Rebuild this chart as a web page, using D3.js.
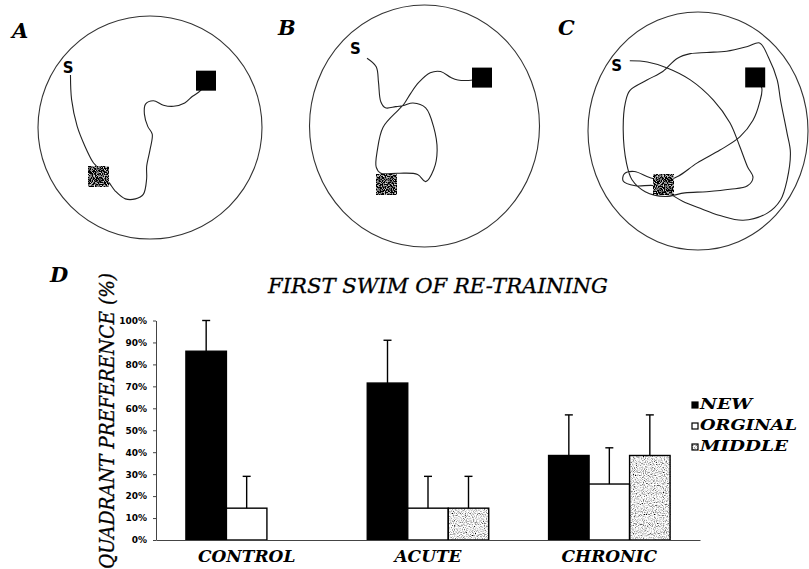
<!DOCTYPE html>
<html lang="en">
<head>
<meta charset="UTF-8">
<script src="https://cdn.jsdelivr.net/npm/d3@7"></script>
<style>
  body { margin: 0; background: #fff; }
  svg { display: block; }
  .serif { font-family: "DejaVu Serif", "Liberation Serif", serif; font-style: italic; }
  .tick text { font-family: "DejaVu Sans", sans-serif; font-weight: bold; font-size: 9px; }
</style>
</head>
<body>
<div id="container"></div>
<script>
// bar chart data
const categories = ["CONTROL", "ACUTE", "CHRONIC"];
const series = ["NEW", "ORGINAL", "MIDDLE"];
const newPct = [86, 71.5, 38.5];
const orgPct = [14.5, 14.5, 25.5];
const midPct = [0, 14.5, 38.5];
const newErr = [14, 19.5, 18.5];
const orgErr = [14.5, 14.5, 16.5];
const midErr = [0, 14.5, 18.5];
const yTicks = [0, 10, 20, 30, 40, 50, 60, 70, 80, 90, 100];

// swim paths, pool units (-100..100 from pool centre)
const poolLabels = ["A", "B", "C"];
const pathA = [[-71,-47],[-70,-25],[-65,-1],[-58,17],[-51,31],[-47,36],[-46,44],[-38,48],[-31,57],[-22,64],[-13,64],[-6,60],[-3,46],[-3,35],[0,20],[2,6],[-2,-1],[-5,-12],[-4,-21],[3,-24],[12,-20],[21,-19],[31,-22],[38,-28],[45,-33],[50,-42]];
const pathB = [[-50,-56],[-42,-49],[-40,-36],[-38,-20],[-34,-15],[-25,-16],[-18,-17],[-10,-19],[1,-15],[8,1],[11,20],[8,36],[1,46],[-6,40],[-23,39],[-38,39],[-42,34],[-41,20],[-36,1],[-23,-13],[-18,-18],[-12,-27],[-5,-36],[5,-44],[14,-45],[23,-40],[29,-38],[42,-38],[50,-40]];
const pathC = [[-62,-59],[-46,-58],[-28,-53],[-7,-43],[14,-26],[29,-7],[38,13],[45,30],[50,39],[45,46],[29,49],[8,51],[-12,52],[-30,55],[-48,51],[-60,41],[-65,27],[-68,-1],[-66,-24],[-62,-34],[-46,-43],[-32,-50],[-19,-61],[-7,-65],[8,-66],[26,-67],[45,-71],[56,-74],[64,-62],[72,-43],[75,-26],[81,2],[84,18],[81,41],[75,58],[63,69],[41,75],[20,71],[2,65],[-14,59],[-27,52],[-39,46],[-57,46],[-68,42],[-67,36],[-58,34],[-44,39],[-30,42],[-18,38],[-1,27],[20,16],[38,5],[50,-9],[56,-24],[58,-36],[52,-45]];
const paths = [pathA, pathB, pathC];
const startPts = [[-73,-54],[-60,-64],[-74,-55]];
const newPlatform = [[50,-42],[50,-40],[52,-45]];
const oldPlatform = [[-46,44],[-33,48],[-31,45]];

const W = 809, H = 569;
const svg = d3.select("#container").append("svg")
    .attr("width", W).attr("height", H);

const defs = svg.append("defs");
function speckle(id, k, off) {
    const f = defs.append("filter").attr("id", id)
        .attr("x", 0).attr("y", 0).attr("width", 1).attr("height", 1);
    f.append("feTurbulence").attr("type", "fractalNoise")
        .attr("baseFrequency", 0.9).attr("numOctaves", 1).attr("seed", 7);
    f.append("feColorMatrix").attr("type", "matrix")
        .attr("values", `${k} 0 0 0 ${off}  ${k} 0 0 0 ${off}  ${k} 0 0 0 ${off}  0 0 0 0 1`);
}
speckle("lightSpeck", 3, -0.7);
speckle("darkSpeck", 3, -1.45);

/*---------------- pools ----------------*/
const pools = [
    {cx: 150, cy: 127.5, rx: 112, ry: 111.5, lx: 12, ly: 38},
    {cx: 424.5, cy: 126, rx: 115, ry: 121, lx: 278, ly: 35},
    {cx: 698, cy: 131, rx: 110, ry: 119, lx: 558, ly: 35}
];

pools.forEach((p, i) => {
    const x = d3.scaleLinear().domain([-100, 100]).range([p.cx - p.rx, p.cx + p.rx]);
    const y = d3.scaleLinear().domain([-100, 100]).range([p.cy - p.ry, p.cy + p.ry]);
    const g = svg.append("g");

    g.append("ellipse")
        .attr("cx", x(0)).attr("cy", y(0))
        .attr("rx", p.rx).attr("ry", p.ry)
        .attr("fill", "none").attr("stroke", "#333").attr("stroke-width", 1.1);

    const line = d3.line().x(d => x(d[0])).y(d => y(d[1])).curve(d3.curveCatmullRom);
    g.append("path").attr("d", line(paths[i]))
        .attr("fill", "none").attr("stroke", "#222").attr("stroke-width", 1.1);

    const sq = 20;
    g.append("rect")
        .attr("x", x(oldPlatform[i][0]) - sq / 2).attr("y", y(oldPlatform[i][1]) - sq / 2)
        .attr("width", sq).attr("height", sq)
        .attr("filter", "url(#darkSpeck)");
    g.append("rect")
        .attr("x", x(newPlatform[i][0]) - sq / 2).attr("y", y(newPlatform[i][1]) - sq / 2)
        .attr("width", sq).attr("height", sq).attr("fill", "#000");

    g.append("text")
        .attr("x", x(startPts[i][0])).attr("y", y(startPts[i][1]))
        .attr("dy", "0.36em").attr("text-anchor", "middle")
        .style("font-family", "DejaVu Sans, sans-serif").style("font-weight", "bold")
        .style("font-size", "15px").text("S");

    svg.append("text").attr("class", "serif")
        .attr("x", p.lx).attr("y", p.ly)
        .style("font-weight", "bold").style("font-size", "21px")
        .text(poolLabels[i]);
});

/*---------------- bar chart ----------------*/
const values = [newPct, orgPct, midPct];
const errors = [newErr, orgErr, midErr];

const x0 = d3.scaleBand().domain(categories).range([156, 700])
    .paddingInner(0.33).paddingOuter(0.165);
const x1 = d3.scaleBand().domain(series).range([0, x0.bandwidth()]);
const y = d3.scaleLinear().domain([0, 100]).range([540, 320.5]);

svg.append("text").attr("class", "serif")
    .attr("x", 50).attr("y", 282)
    .style("font-weight", "bold").style("font-size", "21px").text("D");

svg.append("text").attr("class", "serif")
    .attr("x", 438).attr("y", 293).attr("text-anchor", "middle")
    .attr("textLength", 340).attr("lengthAdjust", "spacingAndGlyphs")
    .style("font-size", "21px").style("stroke", "#000").style("stroke-width", 0.3)
    .text("FIRST SWIM OF RE-TRAINING");

svg.append("text").attr("class", "serif")
    .attr("transform", "translate(114,421) rotate(-90)")
    .attr("text-anchor", "middle")
    .attr("textLength", 296).attr("lengthAdjust", "spacingAndGlyphs")
    .style("font-size", "20px").style("stroke", "#000").style("stroke-width", 0.3)
    .text("QUADRANT PREFERENCE (%)");

const yAxis = svg.append("g").attr("transform", "translate(156,0)")
    .call(d3.axisLeft(y).tickValues(yTicks).tickFormat(d => d + "%")
        .tickSizeInner(3).tickSizeOuter(0).tickPadding(6));
yAxis.select(".domain").attr("stroke", "#444");
yAxis.selectAll(".tick line").attr("stroke", "#444");

const bars = [];
categories.forEach((c, ci) => {
    series.forEach((s, si) => {
        bars.push({c, s, si, v: values[si][ci], e: errors[si][ci]});
    });
});
const shown = bars.filter(d => d.v > 0);

const barG = svg.append("g");
// stipple fill for middle bars
barG.selectAll("rect.speck")
    .data(shown.filter(d => d.si === 2))
    .join("rect")
    .attr("class", "speck")
    .attr("x", d => x0(d.c) + x1(d.s)).attr("y", d => y(d.v))
    .attr("width", x1.bandwidth()).attr("height", d => y(0) - y(d.v))
    .attr("filter", "url(#lightSpeck)");

barG.selectAll("rect.bar")
    .data(shown)
    .join("rect")
    .attr("class", "bar")
    .attr("x", d => x0(d.c) + x1(d.s)).attr("y", d => y(d.v))
    .attr("width", x1.bandwidth()).attr("height", d => y(0) - y(d.v))
    .attr("fill", d => d.si === 0 ? "#000" : d.si === 1 ? "#fff" : "none")
    .attr("stroke", "#000").attr("stroke-width", 1.4);

const errG = svg.append("g").attr("stroke", "#000").attr("stroke-width", 1.4);
shown.forEach(d => {
    const cx = x0(d.c) + x1(d.s) + x1.bandwidth() / 2;
    errG.append("line").attr("x1", cx).attr("x2", cx)
        .attr("y1", y(d.v)).attr("y2", y(d.v + d.e));
    errG.append("line").attr("x1", cx - 4).attr("x2", cx + 4)
        .attr("y1", y(d.v + d.e)).attr("y2", y(d.v + d.e));
});

const xAxis = svg.append("g").attr("transform", "translate(0,540)")
    .call(d3.axisBottom(x0).tickSize(0).tickSizeOuter(0));
xAxis.select(".domain").attr("stroke", "#444");
xAxis.selectAll(".tick text")
    .attr("class", "serif").attr("y", 22).attr("dy", 0)
    .style("font-family", "DejaVu Serif, serif").style("font-style", "italic")
    .style("font-weight", "bold").style("font-size", "17px");

/*---------------- legend ----------------*/
const legendY = [409, 430, 451];
const legendW = [52, 97, 88];
const lg = svg.append("g");
series.forEach((s, i) => {
    if (i === 2) {
        lg.append("rect").attr("x", 692).attr("y", legendY[i] - 7)
            .attr("width", 6).attr("height", 6).attr("filter", "url(#lightSpeck)");
    }
    lg.append("rect").attr("x", 692).attr("y", legendY[i] - 7)
        .attr("width", 6).attr("height", 6)
        .attr("fill", i === 0 ? "#000" : i === 1 ? "#fff" : "none")
        .attr("stroke", "#000").attr("stroke-width", 1.2);
    lg.append("text").attr("class", "serif")
        .attr("x", 700).attr("y", legendY[i])
        .attr("textLength", legendW[i]).attr("lengthAdjust", "spacingAndGlyphs")
        .style("font-weight", "bold").style("font-size", "15px").text(s);
});
</script>
</body>
</html>
